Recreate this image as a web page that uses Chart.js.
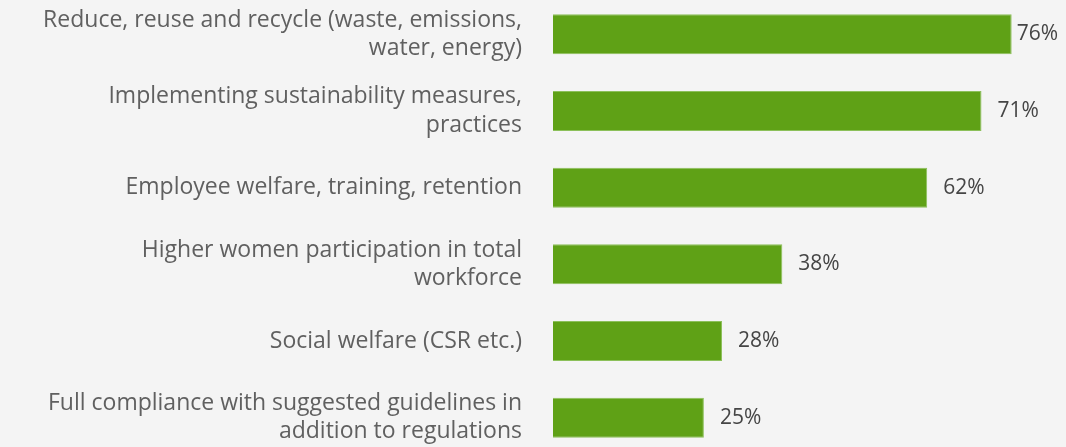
<!DOCTYPE html>
<html>
<head>
<meta charset="utf-8">
<script src="https://cdn.jsdelivr.net/npm/chart.js@4/dist/chart.umd.min.js"></script>
<style>
    html, body { margin: 0; padding: 0; background: #f4f4f4; overflow: hidden; }
    #wrap { position: absolute; left: 0; top: -4px; width: 1066px; height: 460px; }
</style>
</head>
<body>
<div id="wrap"><canvas id="chart"></canvas></div>
<script>
const categories = [
    ['Reduce, reuse and recycle (waste, emissions,', 'water, energy)'],
    ['Implementing sustainability measures,', 'practices'],
    'Employee welfare, training, retention',
    ['Higher women participation in total', 'workforce'],
    'Social welfare (CSR etc.)',
    ['Full compliance with suggested guidelines in', 'addition to regulations'],
];
const shares = [76, 71, 62, 38, 28, 25];

const barColor = '#5fa116';
const labelColor = '#606060';
const valueColor = '#454545';

// percent text just past the end of each bar, kept inside the canvas
const valueLabels = {
    id: 'valueLabels',
    afterDatasetsDraw(chart) {
        const ctx = chart.ctx;
        const meta = chart.getDatasetMeta(0);
        ctx.save();
        ctx.font = '21px "Open Sans", sans-serif';
        ctx.fillStyle = valueColor;
        ctx.textBaseline = 'middle';
        meta.data.forEach((bar, i) => {
            const txt = shares[i] + '%';
            const w = ctx.measureText(txt).width;
            const x = Math.min(bar.x + 16, chart.width - 8 - w);
            ctx.fillText(txt, x, bar.y);
        });
        ctx.restore();
    }
};

new Chart(document.getElementById('chart'), {
    type: 'bar',
    data: {
        labels: categories,
        datasets: [{
            data: shares,
            backgroundColor: barColor,
            borderColor: '#8cc05a',
            borderWidth: 1,
            barPercentage: 0.522,
            categoryPercentage: 1,
        }],
    },
    options: {
        indexAxis: 'y',
        responsive: true,
        maintainAspectRatio: false,
        animation: false,
        layout: { padding: 0 },
        plugins: { legend: { display: false }, tooltip: { enabled: false } },
        scales: {
            x: { display: false, min: 0, max: 85, grid: { display: false } },
            y: {
                grid: { display: false },
                border: { display: false },
                afterFit: s => {
                    s.width = 553;
                    s.paddingTop = 0;
                    s.paddingBottom = 0;
                },
                ticks: {
                    padding: 23,
                    color: labelColor,
                    font: { family: '"Open Sans", sans-serif', size: 23, lineHeight: 1.24 },
                },
            },
        },
    },
    plugins: [valueLabels],
});
</script>
</body>
</html>
